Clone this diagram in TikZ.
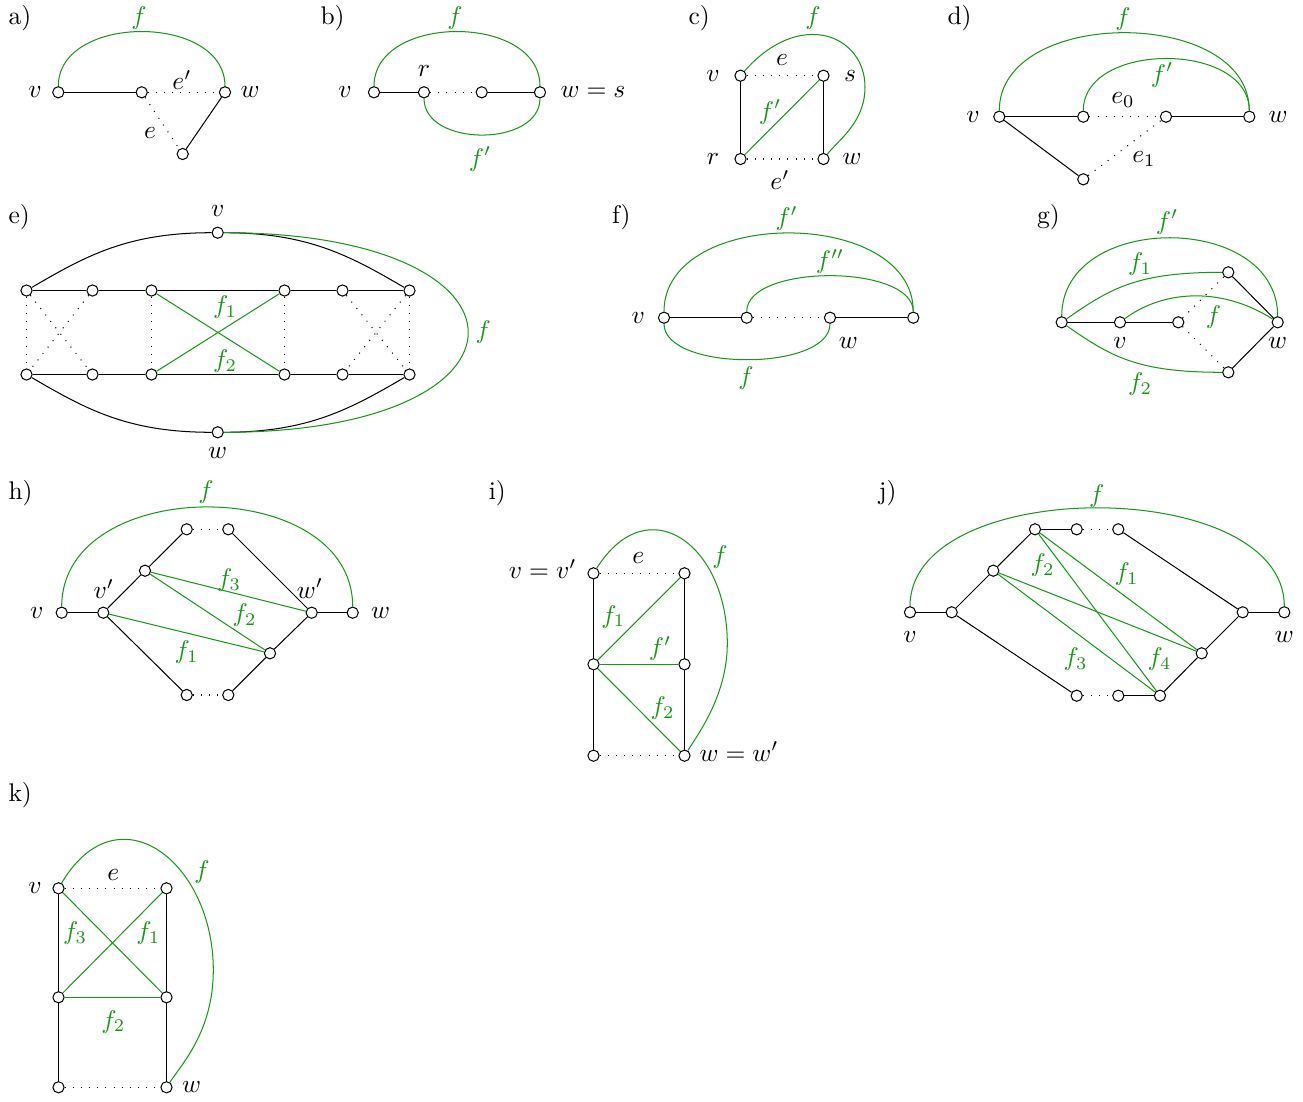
\documentclass[tikz,border=0pt]{standalone}
\usetikzlibrary{calc}
\definecolor{fg}{RGB}{24,150,24}
\begin{document}
\begin{tikzpicture}[x=0.392pt,y=-0.392pt,
  nd/.style={circle,draw,fill=white,inner sep=0pt,minimum size=4.4pt},
  lb/.style={inner sep=0pt},
  gl/.style={inner sep=0pt,text=fg},
  dotline/.style={dash pattern=on 0.4pt off 2.8pt},
  gr/.style={draw=fg},
  tag/.style={anchor=west,inner sep=0pt}]
\useasboundingbox (0,0) rectangle (1303,1102);
% ---------------- a)
\node[tag] (ta) at (8,18) {a)};
\node[nd] (a1) at (58.3,92.3) {};
\node[nd] (a2) at (141.7,92.3) {};
\node[nd] (a3) at (225,92.3) {};
\node[nd] (a4) at (182.7,154) {};
\draw (a1) -- (a2);
\draw[dotline] (a2) -- (a3);
\draw[dotline] (a2) -- (a4);
\draw (a4) -- (a3);
\draw[gr] (a1) .. controls ($(a1)+(0,-79)$) and ($(a3)+(0,-79)$) .. (a3);
\node[lb] (av) at (35,92.3) {$v$};
\node[lb] (aw) at (250,92.3) {$w$};
\node[gl] (af) at (139,18) {$f$};
\node[lb] (aep) at (182,80) {$e'$};
\node[lb] (ae) at (150,133) {$e$};
% ---------------- b)
\node[tag] (tb) at (320,18) {b)};
\node[nd] (b1) at (374,92.3) {};
\node[nd] (b2) at (424,92.3) {};
\node[nd] (b3) at (481.7,92.3) {};
\node[nd] (b4) at (540,92.3) {};
\draw (b1) -- (b2);
\draw[dotline] (b2) -- (b3);
\draw (b3) -- (b4);
\draw[gr] (b1) .. controls ($(b1)+(0,-79)$) and ($(b4)+(0,-79)$) .. (b4);
\draw[gr] (b2) .. controls ($(b2)+(0,55)$) and ($(b4)+(0,55)$) .. (b4);
\node[lb] (bv) at (345,92.3) {$v$};
\node[lb] (br) at (424,71) {$r$};
\node[lb,anchor=base west] (bws) at (560,97.8) {$w=s$};
\node[gl] (bf) at (455,18) {$f$};
\node[gl] (bfp) at (480,159) {$f'$};
% ---------------- c)
\node[tag] (tc) at (688,18) {c)};
\node[nd] (cv) at (740.5,75.7) {};
\node[nd] (cs) at (823.5,75.7) {};
\node[nd] (cr) at (740.5,159) {};
\node[nd] (cw) at (823.5,159) {};
\draw[dotline] (cv) -- (cs);
\draw (cv) -- (cr);
\draw (cs) -- (cw);
\draw[dotline] (cr) -- (cw);
\draw[gr] (cr) -- (cs);
\coordinate (cR) at (865,87);
\draw[gr] (cv) .. controls (800,8) and (865,35) .. (cR) .. controls (865,122) and (839,139.5) .. (cw);
\node[lb] (lcv) at (713,75.7) {$v$};
\node[lb] (lcs) at (850,75.7) {$s$};
\node[lb] (lcr) at (713,159) {$r$};
\node[lb] (lcw) at (852,159) {$w$};
\node[gl] (lcf) at (813,18) {$f$};
\node[lb] (lce) at (782,60) {$e$};
\node[lb] (lcep) at (780,180) {$e'$};
\node[gl] (lcfp) at (770,112) {$f'$};
% ---------------- d)
\node[tag] (td) at (947,18) {d)};
\node[nd] (d1) at (999.3,116.7) {};
\node[nd] (d2) at (1083.3,116.7) {};
\node[nd] (d3) at (1166,116.7) {};
\node[nd] (d4) at (1249.3,116.7) {};
\node[nd] (d5) at (1083.3,179.3) {};
\draw (d1) -- (d2);
\draw[dotline] (d2) -- (d3);
\draw (d3) -- (d4);
\draw (d1) -- (d5);
\draw[dotline] (d5) -- (d3);
\draw[gr] (d1) .. controls ($(d1)+(0,-110)$) and ($(d4)+(0,-110)$) .. (d4);
\draw[gr] (d2) .. controls ($(d2)+(0,-75.6)$) and ($(d4)+(0,-75.6)$) .. (d4);
\node[lb] (ldv) at (973,116.7) {$v$};
\node[lb] (ldw) at (1278,116.7) {$w$};
\node[gl] (ldf) at (1123,19) {$f$};
\node[gl] (ldfp) at (1162,75) {$f'$};
\node[lb] (lde0) at (1123,100) {$e_0$};
\node[lb] (lde1) at (1144,159) {$e_1$};
% ---------------- e)
\node[tag] (te) at (8,217) {e)};
\node[nd] (ev) at (217.7,232.7) {};
\node[nd] (ew) at (217.7,432.3) {};
\foreach \i/\x in {1/26.5,2/92.5,3/151.5,4/284.5,5/342.5,6/409.5}{
  \node[nd] (et\i) at (\x,290.5) {};
  \node[nd] (eb\i) at (\x,374.5) {};
}
\foreach \i/\j in {1/2,2/3,3/4,4/5,5/6}{
  \draw (et\i) -- (et\j);
  \draw (eb\i) -- (eb\j);
}
\foreach \i/\j in {1/1,1/2,2/1,3/3,4/4,5/6,6/5,6/6}{
  \draw[dotline] (et\i) -- (eb\j);
}
\draw[gr] (et3) -- (eb4);
\draw[gr] (eb3) -- (et4);
\draw (ev) .. controls ($(ev)+(-90,0)$) and ($(et1)+(60,-35)$) .. (et1);
\draw (ev) .. controls ($(ev)+(90,0)$) and ($(et6)+(-60,-35)$) .. (et6);
\draw (ew) .. controls ($(ew)+(-90,0)$) and ($(eb1)+(60,35)$) .. (eb1);
\draw (ew) .. controls ($(ew)+(90,0)$) and ($(eb6)+(-60,35)$) .. (eb6);
\draw[gr] (ev) .. controls ($(ev)+(332,0)$) and ($(ew)+(332,0)$) .. (ew);
\node[lb] (lev) at (217.7,210.7) {$v$};
\node[lb] (lew) at (217.7,453) {$w$};
\node[gl] (lef1) at (225,307) {$f_1$};
\node[gl] (lef2) at (225,361.5) {$f_2$};
\node[gl] (lef) at (483.3,331.7) {$f$};
% ---------------- f)
\node[tag] (tf) at (611.7,217) {f)};
\node[nd] (fn1) at (664,317.7) {};
\node[nd] (fn2) at (746.7,317.7) {};
\node[nd] (fn3) at (830,317.7) {};
\node[nd] (fn4) at (913.3,317.7) {};
\draw (fn1) -- (fn2);
\draw[dotline] (fn2) -- (fn3);
\draw (fn3) -- (fn4);
\draw[gr] (fn1) .. controls ($(fn1)+(0,-111)$) and ($(fn4)+(0,-111)$) .. (fn4);
\draw[gr] (fn2) .. controls ($(fn2)+(0,-54)$) and ($(fn4)+(0,-54)$) .. (fn4);
\draw[gr] (fn1) .. controls ($(fn1)+(0,54)$) and ($(fn3)+(0,54)$) .. (fn3);
\node[lb] (lfv) at (638.3,317.7) {$v$};
\node[lb] (lfw) at (848.3,343.3) {$w$};
\node[gl] (lffp) at (786.7,218.3) {$f'$};
\node[gl] (lffpp) at (830,261.7) {$f''$};
\node[gl] (lff) at (746,378.3) {$f$};
% ---------------- g)
\node[tag] (tg) at (1036.7,217) {g)};
\node[nd] (gA) at (1061.7,322.3) {};
\node[nd] (gv) at (1120,322.3) {};
\node[nd] (gC) at (1178.3,322.3) {};
\node[nd] (gT) at (1228.3,272.3) {};
\node[nd] (gB) at (1228.3,372.3) {};
\node[nd] (gw) at (1277.7,322.3) {};
\draw (gA) -- (gv);
\draw (gv) -- (gC);
\draw[dotline] (gC) -- (gT);
\draw[dotline] (gC) -- (gB);
\draw (gT) -- (gw);
\draw (gB) -- (gw);
\draw[gr] (gA) .. controls ($(gA)+(0,-110.7)$) and ($(gw)+(0,-110.7)$) .. (gw);
\draw[gr] (gA) .. controls ($(gA)+(50,-35)$) and ($(gT)+(-90,0)$) .. (gT);
\draw[gr] (gA) .. controls ($(gA)+(50,35)$) and ($(gB)+(-90,0)$) .. (gB);
\draw[gr] (gv) .. controls ($(gv)+(40,-30)$) and ($(gw)+(-60,-38)$) .. (gw);
\node[lb] (lgv) at (1120,343.3) {$v$};
\node[lb] (lgw) at (1277.7,343.3) {$w$};
\node[gl] (lgfp) at (1167,222) {$f'$};
\node[gl] (lgf1) at (1140,264.5) {$f_1$};
\node[gl] (lgf) at (1213.5,317.5) {$f$};
\node[gl] (lgf2) at (1140,384) {$f_2$};
% ---------------- h)
\node[tag] (th) at (8,493) {h)};
\node[nd] (hv) at (61.7,612.7) {};
\node[nd] (hvp) at (103.3,612.7) {};
\node[nd] (ha) at (145,570.7) {};
\node[nd] (hTL) at (186.7,529.3) {};
\node[nd] (hTR) at (228.3,529.3) {};
\node[nd] (hwp) at (311.7,612.7) {};
\node[nd] (hw) at (352.7,612.7) {};
\node[nd] (hb) at (270,653.3) {};
\node[nd] (hBL) at (186.7,695) {};
\node[nd] (hBR) at (228.3,695) {};
\draw (hv) -- (hvp);
\draw (hvp) -- (ha);
\draw (ha) -- (hTL);
\draw[dotline] (hTL) -- (hTR);
\draw (hTR) -- (hwp);
\draw (hwp) -- (hw);
\draw (hvp) -- (hBL);
\draw[dotline] (hBL) -- (hBR);
\draw (hBR) -- (hb);
\draw (hb) -- (hwp);
\draw[gr] (ha) -- (hwp);
\draw[gr] (ha) -- (hb);
\draw[gr] (hvp) -- (hb);
\draw[gr] (hv) .. controls ($(hv)+(0,-139)$) and ($(hw)+(0,-139)$) .. (hw);
\node[lb] (lhv) at (36.7,612.7) {$v$};
\node[lb] (lhvp) at (103.8,589) {$v'$};
\node[lb] (lhwp) at (310,588.5) {$w'$};
\node[lb] (lhw) at (380.7,612.7) {$w$};
\node[gl] (lhf) at (206,492.5) {$f$};
\node[gl] (lhf3) at (229,580) {$f_3$};
\node[gl] (lhf2) at (244.5,615) {$f_2$};
\node[gl] (lhf1) at (186.5,652.5) {$f_1$};
% ---------------- i)
\node[tag] (ti) at (488.3,493) {i)};
\node[nd] (iTL) at (593.5,573.3) {};
\node[nd] (iTR) at (684.5,573.3) {};
\node[nd] (iML) at (593.5,664.3) {};
\node[nd] (iMR) at (684.5,664.3) {};
\node[nd] (iBL) at (593.5,755.7) {};
\node[nd] (iBR) at (684.5,755.7) {};
\draw[dotline] (iTL) -- (iTR);
\draw (iTL) -- (iML);
\draw (iML) -- (iBL);
\draw (iTR) -- (iMR);
\draw (iMR) -- (iBR);
\draw[dotline] (iBL) -- (iBR);
\draw[gr] (iML) -- (iTR);
\draw[gr] (iML) -- (iMR);
\draw[gr] (iML) -- (iBR);
\coordinate (iR) at (727.3,643.3);
\draw[gr] (iTL) .. controls (648,487) and (727.3,545) .. (iR) .. controls (727.3,693.3) and (700.5,730.8) .. (iBR);
\node[lb,anchor=base east] (liv) at (577,578.8) {$v=v'$};
\node[lb,anchor=base west] (liw) at (699,761.2) {$w=w'$};
\node[lb] (lie) at (638.3,558.3) {$e$};
\node[gl] (lif) at (720,557.3) {$f$};
\node[gl] (lif1) at (613.3,616.7) {$f_1$};
\node[gl] (lifp) at (660,648.3) {$f'$};
\node[gl] (lif2) at (662.7,708.3) {$f_2$};
% ---------------- j)
\node[tag] (tj) at (878.3,493) {j)};
\node[nd] (jv) at (910,612.3) {};
\node[nd] (jvp) at (951.7,612.3) {};
\node[nd] (ja) at (993.3,570.7) {};
\node[nd] (jb) at (1035,529.3) {};
\node[nd] (jc) at (1076.7,529.3) {};
\node[nd] (jd) at (1118.3,529.3) {};
\node[nd] (jwp) at (1242.7,612.3) {};
\node[nd] (jw) at (1284.3,612.3) {};
\node[nd] (je) at (1201.7,653.3) {};
\node[nd] (jg) at (1160,695.7) {};
\node[nd] (jBL) at (1076.7,695.7) {};
\node[nd] (jBM) at (1118.3,695.7) {};
\draw (jv) -- (jvp);
\draw (jvp) -- (ja);
\draw (ja) -- (jb);
\draw (jb) -- (jc);
\draw[dotline] (jc) -- (jd);
\draw (jd) -- (jwp);
\draw (jwp) -- (jw);
\draw (jvp) -- (jBL);
\draw[dotline] (jBL) -- (jBM);
\draw (jBM) -- (jg);
\draw (jg) -- (je);
\draw (je) -- (jwp);
\draw[gr] (jb) -- (je);
\draw[gr] (jb) -- (jg);
\draw[gr] (ja) -- (je);
\draw[gr] (ja) -- (jg);
\draw[gr] (jv) .. controls ($(jv)+(0,-137.3)$) and ($(jw)+(0,-137.3)$) .. (jw);
\node[lb] (ljv) at (910,636.5) {$v$};
\node[lb] (ljw) at (1284.3,636.5) {$w$};
\node[gl] (ljf) at (1096.7,496) {$f$};
\node[gl] (ljf2) at (1042.5,565) {$f_2$};
\node[gl] (ljf1) at (1126.5,574.5) {$f_1$};
\node[gl] (ljf3) at (1075.5,659) {$f_3$};
\node[gl] (ljf4) at (1159.5,659) {$f_4$};
% ---------------- k)
\node[tag] (tk) at (8,795) {k)};
\node[nd] (kTL) at (58.5,888.3) {};
\node[nd] (kTR) at (166.5,888.3) {};
\node[nd] (kML) at (58.5,997.3) {};
\node[nd] (kMR) at (166.5,997.3) {};
\node[nd] (kBL) at (58.5,1087.3) {};
\node[nd] (kBR) at (166.5,1087.3) {};
\draw[dotline] (kTL) -- (kTR);
\draw (kTL) -- (kML);
\draw (kML) -- (kBL);
\draw (kTR) -- (kMR);
\draw (kMR) -- (kBR);
\draw[dotline] (kBL) -- (kBR);
\draw[gr] (kTL) -- (kMR);
\draw[gr] (kML) -- (kTR);
\draw[gr] (kML) -- (kMR);
\coordinate (kR) at (213.3,970);
\draw[gr] (kTL) .. controls (118,788) and (213.3,862) .. (kR) .. controls (213.3,1030) and (183.2,1062.4) .. (kBR);
\node[lb] (lkv) at (35,888.3) {$v$};
\node[lb] (lkw) at (191.7,1087.3) {$w$};
\node[lb] (lke) at (113.3,875) {$e$};
\node[gl] (lkf3) at (75,933.3) {$f_3$};
\node[gl] (lkf1) at (148.3,933.3) {$f_1$};
\node[gl] (lkf2) at (113.3,1021.7) {$f_2$};
\node[gl] (lkf) at (202,871.7) {$f$};
\end{tikzpicture}
\end{document}
